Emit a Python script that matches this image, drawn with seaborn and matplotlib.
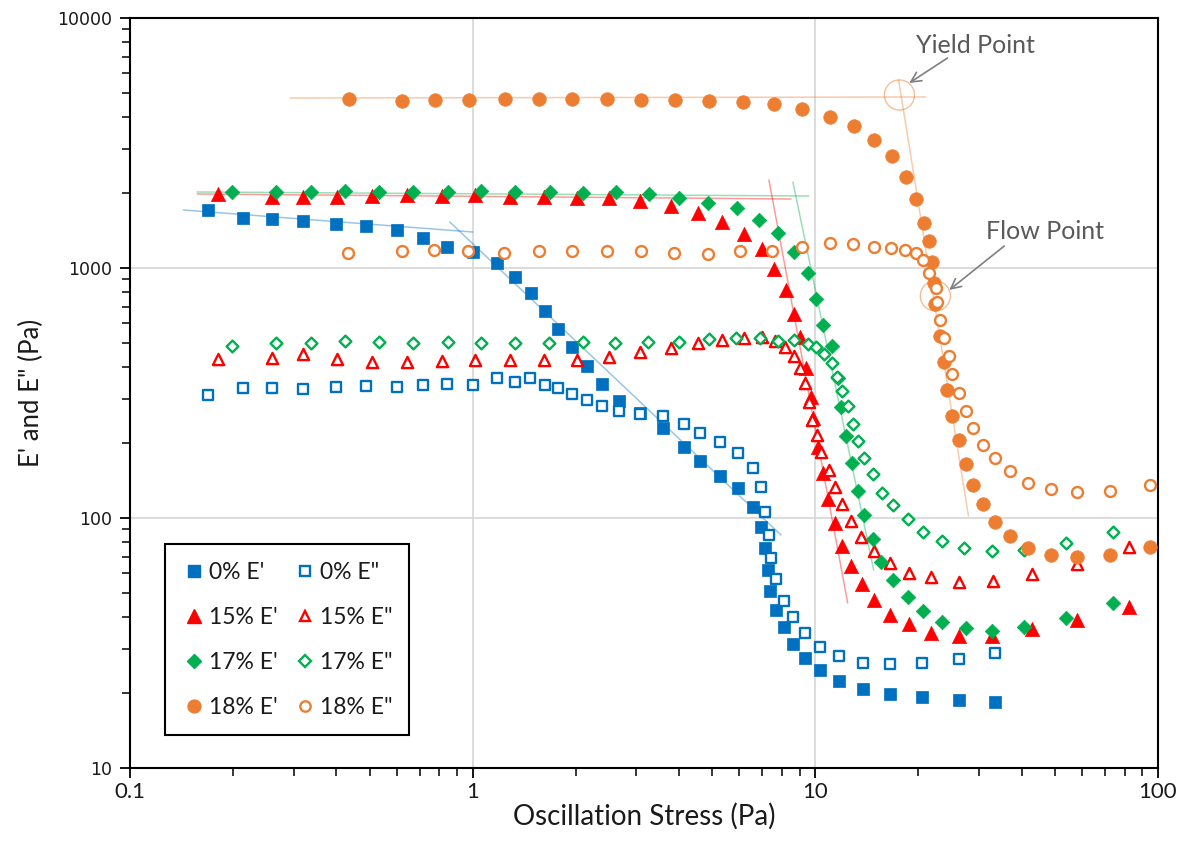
import numpy as np
import pandas as pd
import matplotlib
matplotlib.use("Agg")
import matplotlib.pyplot as plt
import seaborn as sns
from matplotlib.lines import Line2D
from matplotlib.ticker import LogLocator, NullFormatter, FixedLocator, FixedFormatter

# ---------------- data ----------------
x0_Ep = [0.169, 0.214, 0.260, 0.320, 0.399, 0.488, 0.601, 0.715, 0.840, 1.0, 1.175, 1.325, 1.475, 1.631,
         1.78, 1.955, 2.162, 2.39, 2.679, 3.084, 3.60, 4.14, 4.61, 5.27, 5.95, 6.58, 6.94, 7.13, 7.27,
         7.37, 7.67, 8.10, 8.60, 9.32, 10.31, 11.71, 13.75, 16.48, 20.42, 26.17, 33.54]
y0_Ep = [1706, 1585, 1570, 1542, 1500, 1472, 1419, 1318, 1213, 1159, 1047, 920, 794, 673,
         570, 483, 406, 344, 294, 263, 229, 192, 169, 147, 132, 111, 92.0, 75.9, 61.9,
         51.1, 42.9, 36.6, 31.3, 27.5, 24.7, 22.3, 20.7, 19.8, 19.2, 18.7, 18.4]

x0_Epp = [0.169, 0.214, 0.260, 0.320, 0.399, 0.488, 0.601, 0.715, 0.840, 1.0, 1.175, 1.325, 1.465, 1.631,
          1.78, 1.955, 2.162, 2.39, 2.679, 3.084, 3.60, 4.14, 4.61, 5.27, 5.95, 6.58, 6.94, 7.13, 7.32,
          7.42, 7.67, 8.10, 8.60, 9.32, 10.31, 11.71, 13.75, 16.48, 20.42, 26.17, 33.54]
y0_Epp = [310, 331, 331, 328, 334, 337, 334, 340, 344, 340, 363, 350, 363, 340,
          331, 313, 296, 281, 268, 261, 256, 238, 219, 201, 182, 158, 133, 106, 85.5,
          69.2, 57.0, 46.6, 40.2, 34.7, 30.5, 28.1, 26.3, 26.1, 26.3, 27.3, 28.8]

x15_Ep = [0.181, 0.260, 0.320, 0.402, 0.508, 0.642, 0.8125, 1.0135, 1.2815, 1.61, 2.02, 2.505, 3.084,
          3.796, 4.55, 5.343, 6.193, 6.987, 7.57, 8.206, 8.66, 9.02, 9.385, 9.70, 9.83, 10.17, 10.51,
          10.87, 11.40, 11.94, 12.69, 13.66, 14.80, 16.48, 18.71, 21.69, 26.17, 32.87, 42.98, 58.10, 82.34]
y15_Ep = [1977, 1923, 1923, 1923, 1941, 1959, 1941, 1959, 1923, 1923, 1905, 1905, 1854,
          1770, 1660, 1528, 1365, 1191, 991, 817, 655, 530, 398, 305, 251, 192, 151,
          119, 95.5, 77.3, 64.3, 54.5, 47.0, 40.9, 37.7, 34.7, 33.7, 33.7, 36.0, 39.1, 44.1]

x15_Epp = [0.181, 0.260, 0.320, 0.402, 0.508, 0.642, 0.8125, 1.0135, 1.2815, 1.61, 2.02, 2.505, 3.084,
           3.796, 4.55, 5.343, 6.193, 6.987, 7.62, 8.15, 8.66, 9.02, 9.32, 9.58, 9.77, 10.10, 10.38,
           10.95, 11.40, 11.94, 12.69, 13.57, 14.80, 16.48, 18.71, 21.69, 26.17, 33.09, 42.98, 58.10, 82.34]
y15_Epp = [433, 437, 453, 433, 421, 421, 425, 429, 429, 429, 429, 441, 461,
           479, 501, 515, 525, 530, 511, 483, 445, 398, 347, 291, 247, 215, 184,
           156, 133, 114, 97.3, 83.9, 73.8, 66.1, 60.3, 58.1, 55.5, 56.0, 59.7, 65.5, 76.6]

x17_Ep = [0.1988, 0.267, 0.3376, 0.4239, 0.5325, 0.6687, 0.8458, 1.0551, 1.3253, 1.6757, 2.1045, 2.6256,
          3.2759, 4.0049, 4.8641, 5.9101, 6.847, 7.7775, 8.66, 9.514, 10.03, 10.51, 11.17, 11.63, 11.87,
          12.27, 12.77, 13.30, 13.84, 14.70, 15.51, 16.81, 18.59, 20.56, 23.50, 27.43, 32.87, 40.74,
          53.98, 73.96]
y17_Ep = [2014, 2014, 2014, 2032, 2014, 2014, 2014, 2032, 2014, 2014, 1995, 2014,
          1977, 1905, 1820, 1738, 1556, 1380, 1159, 955, 752, 592, 488, 363, 278,
          213, 166, 128, 103, 82.4, 66.7, 56.5, 48.3, 42.5, 38.4, 36.3, 35.3, 36.6,
          39.8, 45.7]

x17_Epp = [0.1988, 0.267, 0.3376, 0.4239, 0.5325, 0.6687, 0.8458, 1.0551, 1.3253, 1.6647, 2.1045, 2.608,
           3.2541, 4.0049, 4.8978, 5.8706, 6.893, 7.7775, 8.66, 9.514, 10.03, 10.59, 11.17, 11.55, 11.94,
           12.43, 12.86, 13.30, 13.84, 14.70, 15.62, 16.81, 18.59, 20.56, 23.50, 27.24, 32.87, 40.74,
           53.98, 73.96]
y17_Epp = [488, 501, 501, 511, 506, 501, 506, 501, 501, 501, 506, 501,
           506, 506, 520, 525, 525, 511, 515, 497, 483, 453, 417, 366, 322,
           281, 238, 203, 174, 150, 126, 113, 99.1, 87.9, 80.9, 75.9, 73.8, 74.5,
           79.4, 87.9]

x18_Ep = [0.4355, 0.6213, 0.7752, 0.9736, 1.2395, 1.5565, 1.9548, 2.4717, 3.1046, 3.899, 4.8978, 6.1518,
          7.572, 9.1378, 11.02, 12.94, 14.80, 16.70, 18.34, 19.62, 20.70, 21.40, 21.84, 22.13, 22.28,
          23.04, 23.66, 24.30, 25.13, 26.17, 27.43, 28.93, 30.94, 33.54, 37.08, 41.84, 48.81, 58.10,
          72.49, 94.8]
y18_Ep = [4742, 4656, 4699, 4699, 4742, 4742, 4742, 4742, 4699, 4699, 4656, 4613,
          4529, 4325, 4018, 3698, 3251, 2805, 2312, 1888, 1514, 1282, 1057, 871, 718,
          535, 421, 325, 256, 205, 164, 136, 114, 96.4, 84.7, 75.9, 71.1, 69.8,
          71.1, 76.6]

x18_Epp = [0.4325, 0.6213, 0.770, 0.9669, 1.231, 1.5565, 1.9548, 2.4717, 3.1046, 3.8731, 4.8641, 6.0295,
           7.4714, 9.1378, 11.02, 12.86, 14.80, 16.59, 18.22, 19.62, 20.56, 21.40, 22.43, 22.6, 23.04,
           23.66, 24.47, 25.13, 26.17, 27.43, 28.93, 30.94, 33.54, 37.08, 41.84, 48.81, 58.10, 72.49, 94.8]
y18_Epp = [1148, 1169, 1180, 1169, 1148, 1169, 1169, 1169, 1169, 1148, 1138, 1169,
           1169, 1213, 1259, 1247, 1213, 1202, 1180, 1148, 1076, 955, 832, 731, 619,
           525, 445, 377, 316, 268, 229, 196, 174, 154, 138, 131, 127, 128, 136]

# fitted tangent lines (end points)
tan0_a_x, tan0_a_y = [0.143, 1.0], [1706, 1393]
tan0_b_x, tan0_b_y = [0.857, 7.94], [1528, 85.5]
tan15_a_x, tan15_a_y = [0.157, 8.49], [1977, 1888]
tan15_b_x, tan15_b_y = [7.32, 12.43], [2249, 45.7]
tan17_a_x, tan17_a_y = [0.157, 9.57], [2014, 1941]
tan17_b_x, tan17_b_y = [8.60, 14.8], [2208, 61.9]
tan18_a_x, tan18_a_y = [0.293, 20.97], [4786, 4831]
tan18_b_x, tan18_b_y = [17.5, 27.98], [5649, 101.8]

yield_pt = (17.6, 4920)
flow_pt = (22.4, 773)
yield_text = (29.3, 7727)
yield_arrow_tail = (24.3, 6918)
yield_arrow_head = (18.8, 5495)
flow_text = (46.9, 1406)
flow_arrow_tail = (35.6, 1225)
flow_arrow_head = (24.6, 817)

labels = ["0% E'", "0% E\"", "15% E'", "15% E\"", "17% E'", "17% E\"", "18% E'", "18% E\""]
x_ticks = [0.1, 1, 10, 100]
x_ticklabels = ["0.1", "1", "10", "100"]
y_ticks = [10, 100, 1000, 10000]
y_ticklabels = ["10", "100", "1000", "10000"]

# ---------------- style ----------------
BLUE = "#0070C0"
RED = "#FF0000"
GREEN = "#00B050"
ORANGE = "#ED7D31"
TXT = "#1A1A1A"

sns.set_theme(style="white")
plt.rcParams['font.family'] = ['Lato', 'DejaVu Sans']

fig = plt.figure(figsize=(11.82, 8.61), dpi=100)
ax = fig.add_axes([0.1100, 0.1080, 0.8697, 0.8711])
ax.set_xscale("log")
ax.set_yscale("log")
ax.set_xlim(0.1, 100)
ax.set_ylim(10, 10000)

# tangent lines
for (lx, ly, c) in [(tan0_a_x, tan0_a_y, BLUE), (tan0_b_x, tan0_b_y, BLUE),
                    (tan15_a_x, tan15_a_y, RED), (tan15_b_x, tan15_b_y, RED),
                    (tan17_a_x, tan17_a_y, GREEN), (tan17_b_x, tan17_b_y, GREEN),
                    (tan18_a_x, tan18_a_y, ORANGE), (tan18_b_x, tan18_b_y, ORANGE)]:
    sns.lineplot(x=lx, y=ly, ax=ax, color=c, lw=1.1, alpha=0.4, zorder=2)

series = [
    (x0_Ep, y0_Ep, BLUE, "s", True, 85),
    (x0_Epp, y0_Epp, BLUE, "s", False, 55),
    (x15_Ep, y15_Ep, RED, "^", True, 105),
    (x15_Epp, y15_Epp, RED, "^", False, 65),
    (x17_Ep, y17_Ep, GREEN, "D", True, 55),
    (x17_Epp, y17_Epp, GREEN, "D", False, 36),
    (x18_Ep, y18_Ep, ORANGE, "o", True, 95),
    (x18_Epp, y18_Epp, ORANGE, "o", False, 62),
]

handles = []
for (sx, sy, c, m, filled, s), lab in zip(series, labels):
    if filled:
        sns.scatterplot(x=sx, y=sy, ax=ax, marker=m, s=s, color=c, edgecolor=c,
                        linewidth=0.5, zorder=3)
        h = Line2D([], [], ls="none", marker=m, color=c, markerfacecolor=c, markeredgecolor=c,
                   markersize=np.sqrt(s) * 0.95)
    else:
        sns.scatterplot(x=sx, y=sy, ax=ax, marker=m, s=s, facecolor="white", edgecolor=c,
                        linewidth=1.7, zorder=3)
        h = Line2D([], [], ls="none", marker=m, markerfacecolor="white", markeredgecolor=c,
                   markeredgewidth=1.7, markersize=np.sqrt(s) * 0.95)
    handles.append(h)

# yield / flow point circles
sns.scatterplot(x=[yield_pt[0], flow_pt[0]], y=[yield_pt[1], flow_pt[1]], ax=ax, marker="o",
                s=470, facecolor="none", edgecolor=ORANGE, linewidth=1.0, alpha=0.5, zorder=4)

arrow_kw = dict(arrowstyle="->", color="#7F7F7F", lw=1.2, shrinkA=0, shrinkB=0, mutation_scale=18)
ax.annotate("", xy=yield_arrow_head, xytext=yield_arrow_tail, arrowprops=arrow_kw)
ax.annotate("", xy=flow_arrow_head, xytext=flow_arrow_tail, arrowprops=arrow_kw)
ax.text(yield_text[0], yield_text[1], "Yield Point", fontsize=18, color="#595959",
        ha="center", va="center")
ax.text(flow_text[0], flow_text[1], "Flow Point", fontsize=18, color="#595959",
        ha="center", va="center")

# grid & ticks
ax.grid(True, which="major", color="#D9D9D9", lw=1.3)
ax.set_axisbelow(True)
ax.xaxis.set_major_locator(FixedLocator(x_ticks))
ax.xaxis.set_major_formatter(FixedFormatter(x_ticklabels))
ax.yaxis.set_major_locator(FixedLocator(y_ticks))
ax.yaxis.set_major_formatter(FixedFormatter(y_ticklabels))
ax.xaxis.set_minor_locator(LogLocator(base=10, subs=np.arange(2, 10)))
ax.yaxis.set_minor_locator(LogLocator(base=10, subs=np.arange(2, 10)))
ax.xaxis.set_minor_formatter(NullFormatter())
ax.yaxis.set_minor_formatter(NullFormatter())
ax.tick_params(which="major", direction="out", length=7, width=1.3, color="black",
               bottom=True, left=True)
ax.tick_params(which="minor", direction="out", length=6, width=1.1, color="black",
               bottom=True, left=True)
ax.tick_params(axis="x", labelsize=16, pad=3, labelcolor=TXT)
ax.tick_params(axis="y", labelsize=12.5, pad=6, labelcolor=TXT)
for lab in ax.get_yticklabels():
    lab.set_family("DejaVu Sans")
for sp in ax.spines.values():
    sp.set_color("black")
    sp.set_linewidth(1.5)

ax.set_xlabel("Oscillation Stress (Pa)", fontsize=20, color=TXT, labelpad=1)
ax.set_ylabel("E' and E\" (Pa)", fontsize=18.5, color=TXT, labelpad=9)

leg_handles = [handles[0], handles[2], handles[4], handles[6], handles[1], handles[3], handles[5], handles[7]]
leg_labels = [labels[0], labels[2], labels[4], labels[6], labels[1], labels[3], labels[5], labels[7]]
leg = ax.legend(leg_handles, leg_labels, ncol=2, loc="lower left", bbox_to_anchor=(0.034, 0.044),
                borderaxespad=0, frameon=True, fancybox=False, edgecolor="black", fontsize=16.5,
                handletextpad=0.15, columnspacing=0.7, labelspacing=1.05, borderpad=0.75,
                handlelength=1.0, labelcolor=TXT)
leg.get_frame().set_linewidth(1.5)
leg.get_frame().set_alpha(1)

fig.savefig("out.png", dpi=100, facecolor="white")
